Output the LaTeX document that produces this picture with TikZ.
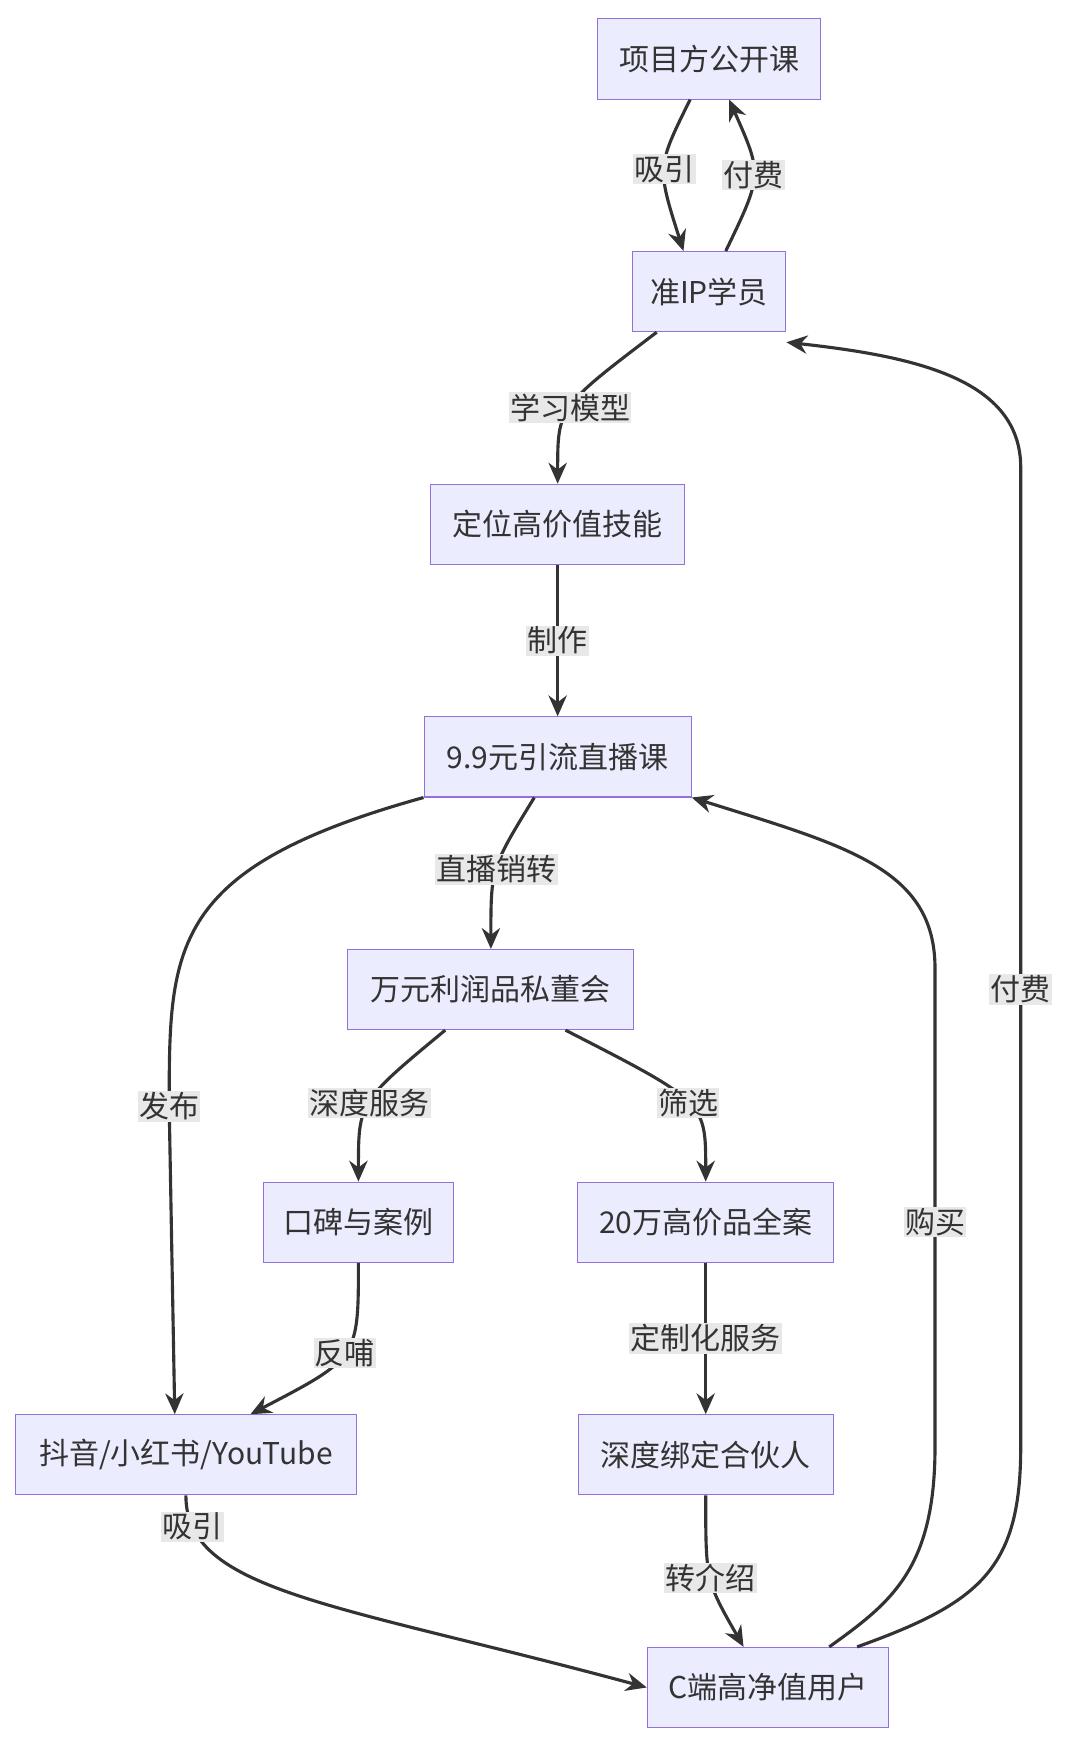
\documentclass[tikz,border=0pt]{standalone}
\usepackage{fontspec}
\setmainfont{Noto Sans CJK SC}
\usetikzlibrary{arrows.meta,positioning}
\definecolor{boxFill}{HTML}{ECECFF}
\definecolor{boxLine}{HTML}{9370DB}
\definecolor{edgeGris}{HTML}{333333}
\definecolor{labelGris}{HTML}{E8E8E8}
\tikzset{
  box/.style={draw=boxLine, fill=boxFill, line width=0.8pt, minimum height=2.16cm,
              inner xsep=0.35cm, font=\fontsize{23}{26}\selectfont, text=edgeGris},
  edge/.style={draw=edgeGris, line width=2.4pt, -{Stealth[length=16pt,width=14pt]}},
  lbl/.style={fill=labelGris, inner sep=1pt, font=\fontsize{23}{26}\selectfont, text=edgeGris}
}
\begin{document}
\begin{tikzpicture}[x=0.03cm,y=-0.03cm]
  \useasboundingbox[fill=white] (0,0) rectangle (960,1565);
  % nodes
  \node[box, minimum width=6cm]    (open)   at (637,53)   {项目方公开课};
  \node[box, minimum width=4.14cm] (ip)     at (637,262)  {准IP学员};
  \node[box, minimum width=6.84cm] (skill)  at (501,471)  {定位高价值技能};
  \node[box, minimum width=7.2cm]  (live)   at (501,680)  {9.9元引流直播课};
  \node[box, minimum width=7.71cm] (club)   at (441,889)  {万元利润品私董会};
  \node[box, minimum width=5.13cm] (case)   at (322,1098) {口碑与案例};
  \node[box, minimum width=6.9cm]  (plan)   at (634,1098) {20万高价品全案};
  \node[box, minimum width=9.18cm] (media)  at (167,1307) {抖音/小红书/YouTube};
  \node[box, minimum width=6.87cm] (partner) at (634,1307) {深度绑定合伙人};
  \node[box, minimum width=6.51cm] (client) at (690,1516) {C端高净值用户};
  % edges
  \draw[edge] ([xshift=-17*0.03cm]open.south) .. controls (590,150) .. ([xshift=-23*0.03cm]ip.north)
    node[pos=.5,lbl] {吸引};
  \draw[edge] ([xshift=15*0.03cm]ip.north) .. controls (685,157) .. ([xshift=18*0.03cm]open.south)
    node[pos=.5,lbl] {付费};
  \draw[edge] ([xshift=-47*0.03cm]ip.south) .. controls (501,366) .. (skill.north)
    node[pos=.5,lbl] {学习模型};
  \draw[edge] (skill) -- (live) node[midway,lbl] {制作};
  \draw[edge] ([xshift=-21*0.03cm]live.south) .. controls (441,780) .. (club.north)
    node[pos=.5,lbl] {直播销转};
  \draw[edge] (live.south west) .. controls (152,780) and (152,850) .. (152,994)
    node[lbl] {发布} -- ([xshift=-10*0.03cm]media.north);
  \draw[edge] ([xshift=-41*0.03cm]club.south) .. controls (322,990) .. (case.north)
    node[pos=.5,lbl] {深度服务};
  \draw[edge] ([xshift=67*0.03cm]club.south) .. controls (634,990) .. (plan.north)
    node[pos=.5,lbl] {筛选};
  \draw[edge] (case.south) .. controls (322,1220) .. ([xshift=58*0.03cm]media.north)
    node[pos=.5,lbl] {反哺};
  \draw[edge] (plan) -- (partner) node[midway,lbl] {定制化服务};
  \draw[edge] (partner.south) .. controls (634,1420) .. ([xshift=-22*0.03cm]client.north)
    node[pos=.5,lbl] {转介绍};
  \draw[edge] (media.south) .. controls (167,1430) and (300,1440) .. (client.west)
    node[pos=.12,lbl] {吸引};
  \draw[edge] ([xshift=55*0.03cm]client.north) .. controls (800,1440) and (840,1410) .. (840,1300)
    -- (840,1098) node[lbl] {购买} -- (840,870) .. controls (840,780) and (760,760) .. (live.south east);
  \draw[edge] ([xshift=80*0.03cm]client.north) .. controls (880,1440) and (917,1410) .. (917,1300)
    -- (917,889) node[lbl] {付费} -- (917,420) .. controls (917,340) and (820,320) .. ([yshift=-9*0.03cm]ip.south east);
\end{tikzpicture}
\end{document}
